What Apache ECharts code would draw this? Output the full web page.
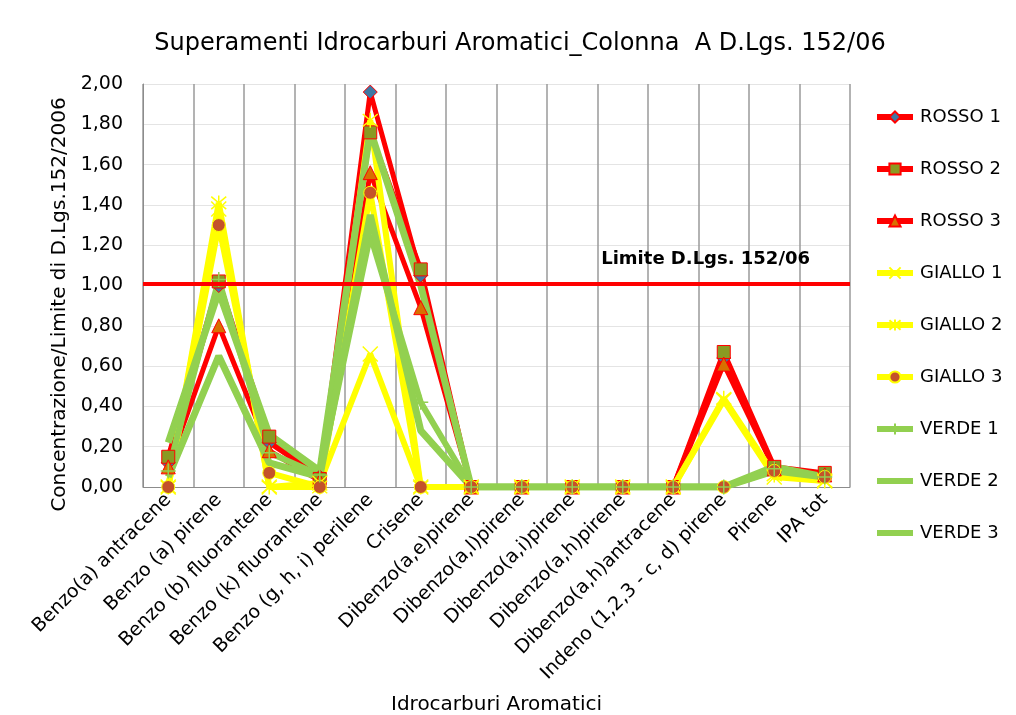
<!DOCTYPE html>
<html>
<head>
<meta charset="utf-8">
<script src="https://cdn.jsdelivr.net/npm/echarts@6/dist/echarts.min.js"></script>
<style>
  html, body { margin: 0; padding: 0; background: #fff; }
  #chart { width: 1016px; height: 715px; }
</style>
</head>
<body>
<div id="chart"></div>
<script>
// categorie (asse x)
const categories = [
  "Benzo(a) antracene", "Benzo (a) pirene", "Benzo (b) fluorantene",
  "Benzo (k) fluorantene", "Benzo (g, h, i) perilene", "Crisene",
  "Dibenzo(a,e)pirene", "Dibenzo(a,l)pirene", "Dibenzo(a,i)pirene",
  "Dibenzo(a,h)pirene", "Dibenzo(a,h)antracene",
  "Indeno (1,2,3 - c, d) pirene", "Pirene", "IPA tot"
];
// valori
const rosso1 = [0.12, 1.00, 0.22, 0.05, 1.96, 1.05, 0, 0, 0, 0, 0, 0.64, 0.09, 0.06];
const rosso2 = [0.15, 1.02, 0.25, 0.04, 1.76, 1.08, 0, 0, 0, 0, 0, 0.67, 0.10, 0.07];
const rosso3 = [0.10, 0.80, 0.18, 0.03, 1.56, 0.89, 0, 0, 0, 0, 0, 0.61, 0.09, 0.06];
const giallo1 = [0.00, 1.38, 0.00, 0.02, 0.66, 0.00, 0, 0, 0, 0, 0, 0.43, 0.05, 0.03];
const giallo2 = [0.00, 1.41, 0.00, 0.00, 1.82, 0.00, 0, 0, 0, 0, 0, 0.44, 0.06, 0.03];
const giallo3 = [0.00, 1.30, 0.07, 0.00, 1.46, 0.00, 0, 0, 0, 0, 0, 0.00, 0.08, 0.05];
const verde1 = [0.08, 1.03, 0.17, 0.06, 1.25, 0.42, 0, 0, 0, 0, 0, 0.00, 0.09, 0.05];
const verde2 = [0.22, 0.97, 0.26, 0.08, 1.77, 1.00, 0, 0, 0, 0, 0, 0.00, 0.10, 0.05];
const verde3 = [0.05, 0.65, 0.12, 0.05, 1.35, 0.28, 0, 0, 0, 0, 0, 0.00, 0.08, 0.05];
const limite = 1.01;
const limiteLabel = "Limite D.Lgs. 152/06";

const RED = "#ff0000", YELLOW = "#ffff00", GREEN = "#92d050";
const FONT = "DejaVu Sans";

const xSym = "path://M0,0L10,10M10,0L0,10";
const starSym = "path://M0,0L10,10M10,0L0,10M5,-1L5,11";
const plusSym = "path://M0,5L10,5M5,0L5,10";

function mkSeries(name, data, color, width, symbol, size, fill, border) {
  const isPath = symbol.indexOf("path") === 0;
  const s = {
    name: name,
    type: "line",
    data: data,
    symbol: symbol,
    symbolSize: size,
    lineStyle: { color: color, width: width },
    itemStyle: { color: fill, borderColor: border, borderWidth: isPath ? 1.5 : 1 },
    emphasis: { disabled: true },
    z: 2
  };
  if (fill === null) {
    // linea senza marcatori
    s.showSymbol = false;
    s.itemStyle = { color: "rgba(0,0,0,0)", borderWidth: 0 };
  }
  return s;
}

const series = [
  mkSeries("ROSSO 1", rosso1, RED, 5, "diamond", 14, "#3f78a3", RED),
  mkSeries("ROSSO 2", rosso2, RED, 5, "rect", 13, "#8a9a22", RED),
  mkSeries("ROSSO 3", rosso3, RED, 5, "triangle", 14, "#d87000", RED),
  mkSeries("GIALLO 1", giallo1, YELLOW, 6, xSym, 15, YELLOW, YELLOW),
  mkSeries("GIALLO 2", giallo2, YELLOW, 6, starSym, 15, YELLOW, YELLOW),
  mkSeries("GIALLO 3", giallo3, YELLOW, 6, "circle", 13, "#c4522a", YELLOW),
  mkSeries("VERDE 1", verde1, GREEN, 6, plusSym, 15, GREEN, GREEN),
  mkSeries("VERDE 2", verde2, GREEN, 7, "circle", 8, null, null),
  mkSeries("VERDE 3", verde3, GREEN, 7, "circle", 8, null, null)
];
series[0].markLine = {
  silent: true,
  symbol: "none",
  lineStyle: { color: RED, width: 4, type: "solid" },
  label: {
    show: true,
    position: "insideEndTop",
    distance: [40, 15],
    formatter: limiteLabel,
    color: "#000",
    fontFamily: FONT,
    fontWeight: "bold",
    fontSize: 18
  },
  data: [{ yAxis: limite }]
};

const myChart = echarts.init(document.getElementById("chart"));
const option = {
  animation: false,
  backgroundColor: "#fff",
  textStyle: { fontFamily: FONT },
  title: {
    text: "Superamenti Idrocarburi Aromatici_Colonna  A D.Lgs. 152/06",
    left: 515,
    textAlign: "center",
    top: 27,
    textStyle: { fontFamily: FONT, fontSize: 24, fontWeight: "normal", color: "#000" }
  },
  legend: {
    orient: "vertical",
    left: 869,
    top: 103,
    itemWidth: 36,
    itemHeight: 14,
    itemGap: 34,
    lineStyle: { width: 6 },
    textStyle: { fontFamily: FONT, fontSize: 18, color: "#000", padding: [0, 0, 0, 2] },
    data: series.map(s => s.name)
  },
  grid: { left: 143, right: 166, top: 84, bottom: 228, outerBoundsMode: "none" },
  xAxis: {
    type: "category",
    data: categories,
    boundaryGap: true,
    name: "Idrocarburi Aromatici",
    nameLocation: "middle",
    nameGap: 208,
    nameTextStyle: { fontFamily: FONT, fontSize: 20, color: "#000" },
    axisLine: { lineStyle: { color: "#8c8c8c", width: 1 } },
    axisTick: { show: false },
    splitLine: { show: true, lineStyle: { color: "#9a9a9a", width: 1.5 } },
    axisLabel: { rotate: 45, interval: 0, fontFamily: FONT, fontSize: 19, color: "#000", margin: 10 }
  },
  yAxis: {
    type: "value",
    min: 0,
    max: 2,
    interval: 0.2,
    name: "Concentrazione/Limite di D.Lgs.152/2006",
    nameLocation: "middle",
    nameGap: 70,
    nameTextStyle: { fontFamily: FONT, fontSize: 20, color: "#000", padding: [0, 38, 0, 0] },
    axisLine: { show: true, lineStyle: { color: "#8c8c8c", width: 1 } },
    axisTick: { show: false },
    splitLine: { show: true, lineStyle: { color: "#e4e4e4", width: 1 } },
    axisLabel: {
      fontFamily: FONT, fontSize: 19, color: "#000", margin: 20,
      formatter: v => v.toFixed(2).replace(".", ",")
    }
  },
  series: series
};
myChart.setOption(option);
</script>
</body>
</html>
